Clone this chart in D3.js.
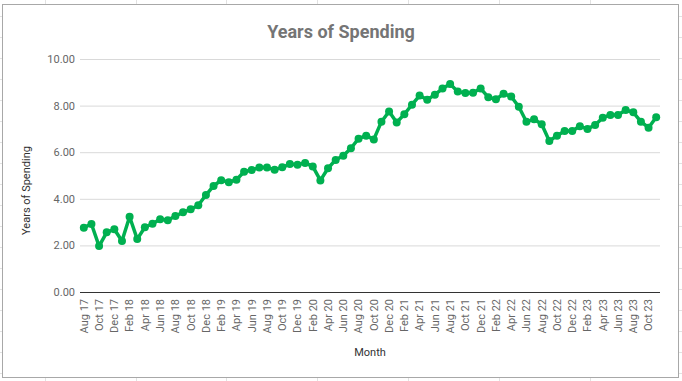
<!DOCTYPE html>
<html>
<head>
<meta charset="utf-8">
<script src="https://cdn.jsdelivr.net/npm/d3@7"></script>
<style>
  html, body { margin: 0; padding: 0; background: #fff; }
  svg { display: block; }
  text { font-family: Roboto, "Noto Sans", Arial, sans-serif; }
</style>
</head>
<body>
<svg id="chart" width="682" height="381"></svg>
<script>
const months = [
  "Aug 17","Sep 17","Oct 17","Nov 17","Dec 17","Jan 18","Feb 18","Mar 18","Apr 18","May 18","Jun 18","Jul 18",
  "Aug 18","Sep 18","Oct 18","Nov 18","Dec 18","Jan 19","Feb 19","Mar 19","Apr 19","May 19","Jun 19","Jul 19",
  "Aug 19","Sep 19","Oct 19","Nov 19","Dec 19","Jan 20","Feb 20","Mar 20","Apr 20","May 20","Jun 20","Jul 20",
  "Aug 20","Sep 20","Oct 20","Nov 20","Dec 20","Jan 21","Feb 21","Mar 21","Apr 21","May 21","Jun 21","Jul 21",
  "Aug 21","Sep 21","Oct 21","Nov 21","Dec 21","Jan 22","Feb 22","Mar 22","Apr 22","May 22","Jun 22","Jul 22",
  "Aug 22","Sep 22","Oct 22","Nov 22","Dec 22","Jan 23","Feb 23","Mar 23","Apr 23","May 23","Jun 23","Jul 23",
  "Aug 23","Sep 23","Oct 23","Nov 23"
];
const yearsOfSpending = [
  2.76,2.92,1.97,2.56,2.69,2.19,3.23,2.27,2.78,2.93,3.12,3.08,
  3.26,3.42,3.55,3.72,4.16,4.55,4.80,4.71,4.82,5.16,5.24,5.34,
  5.34,5.25,5.35,5.49,5.46,5.54,5.39,4.79,5.31,5.67,5.85,6.17,
  6.58,6.71,6.55,7.31,7.75,7.28,7.63,8.04,8.43,8.25,8.47,8.73,
  8.93,8.60,8.54,8.55,8.73,8.36,8.27,8.51,8.39,7.95,7.31,7.41,
  7.20,6.48,6.71,6.91,6.91,7.11,7.00,7.17,7.48,7.60,7.60,7.81,
  7.71,7.31,7.05,7.50
];
const yTicks = [0, 2, 4, 6, 8, 10];
const xTickLabels = months.filter((m, i) => i % 2 === 0);

const svg = d3.select("#chart");
const W = 682, H = 381;

// spreadsheet background
const bg = svg.append("g");
const colXs = [45, 136, 226, 317, 408, 499, 590];
colXs.forEach(x => bg.append("line").attr("x1", x + 0.5).attr("x2", x + 0.5).attr("y1", 0).attr("y2", H).attr("stroke", "#e2e2e2"));
for (let y = 16; y < H; y += 21) {
  bg.append("line").attr("x1", 0).attr("x2", W).attr("y1", y + 0.5).attr("y2", y + 0.5).attr("stroke", "#e2e2e2");
}

// chart box
svg.append("rect").attr("x", 2.5).attr("y", 4.5).attr("width", 676).attr("height", 373)
  .attr("fill", "#fff").attr("stroke", "#a8a8a8").attr("stroke-width", 1);

const plot = { left: 80, right: 660, top: 59, bottom: 292 };

const x = d3.scaleBand().domain(months).range([plot.left, plot.right]);
const y = d3.scaleLinear().domain([0, 10]).range([plot.bottom, plot.top]);
const cx = d => x(d) + x.bandwidth() / 2;

// gridlines
svg.append("g")
  .attr("transform", `translate(${plot.left},0)`)
  .call(d3.axisLeft(y).tickValues(yTicks).tickSize(-(plot.right - plot.left)).tickFormat(""))
  .call(g => g.select(".domain").remove())
  .call(g => g.selectAll(".tick line").attr("stroke", "#d9d9d9").attr("stroke-width", 1));

// y labels
svg.append("g")
  .attr("transform", `translate(${plot.left},0)`)
  .call(d3.axisLeft(y).tickValues(yTicks).tickSize(0).tickPadding(5).tickFormat(d3.format(".2f")))
  .call(g => g.select(".domain").remove())
  .call(g => g.selectAll("text").attr("fill", "#666").attr("font-size", "11px")
    .style("font-family", "Roboto, sans-serif"));

// x axis baseline
svg.append("line").attr("x1", plot.left).attr("x2", plot.right)
  .attr("y1", y(0) + 0.5).attr("y2", y(0) + 0.5).attr("stroke", "#333").attr("stroke-width", 1);

// x labels
svg.append("g")
  .attr("transform", `translate(0,${plot.bottom})`)
  .call(d3.axisBottom(x).tickValues(xTickLabels).tickSize(0).tickPadding(0))
  .call(g => g.select(".domain").remove())
  .call(g => g.selectAll("text")
    .attr("fill", "#666").attr("font-size", "11px")
    .style("font-family", "Roboto, sans-serif")
    .attr("text-anchor", "end")
    .attr("dy", "0.35em")
    .attr("transform", "translate(0,7) rotate(-90)")
    .attr("x", 0).attr("y", 0));

// line
const line = d3.line().x((d, i) => cx(months[i])).y(d => y(d));
svg.append("path").datum(yearsOfSpending)
  .attr("d", line).attr("fill", "none")
  .attr("stroke", "#00b050").attr("stroke-width", 3.5).attr("stroke-linejoin", "round");

svg.append("g").selectAll("circle").data(yearsOfSpending).join("circle")
  .attr("cx", (d, i) => cx(months[i])).attr("cy", d => y(d)).attr("r", 4)
  .attr("fill", "#00b050");

// title
svg.append("text").attr("x", 341).attr("y", 38).attr("text-anchor", "middle")
  .attr("font-size", "18px").attr("font-weight", "bold").attr("fill", "#757575")
  .text("Years of Spending");

// axis titles
svg.append("text").attr("transform", `translate(30,${(plot.top + plot.bottom) / 2 + 15}) rotate(-90)`)
  .attr("text-anchor", "middle").attr("font-size", "11px").attr("fill", "#333")
  .text("Years of Spending");

svg.append("text").attr("x", 370).attr("y", 356).attr("text-anchor", "middle")
  .attr("font-size", "11px").attr("fill", "#333").text("Month");
</script>
</body>
</html>
